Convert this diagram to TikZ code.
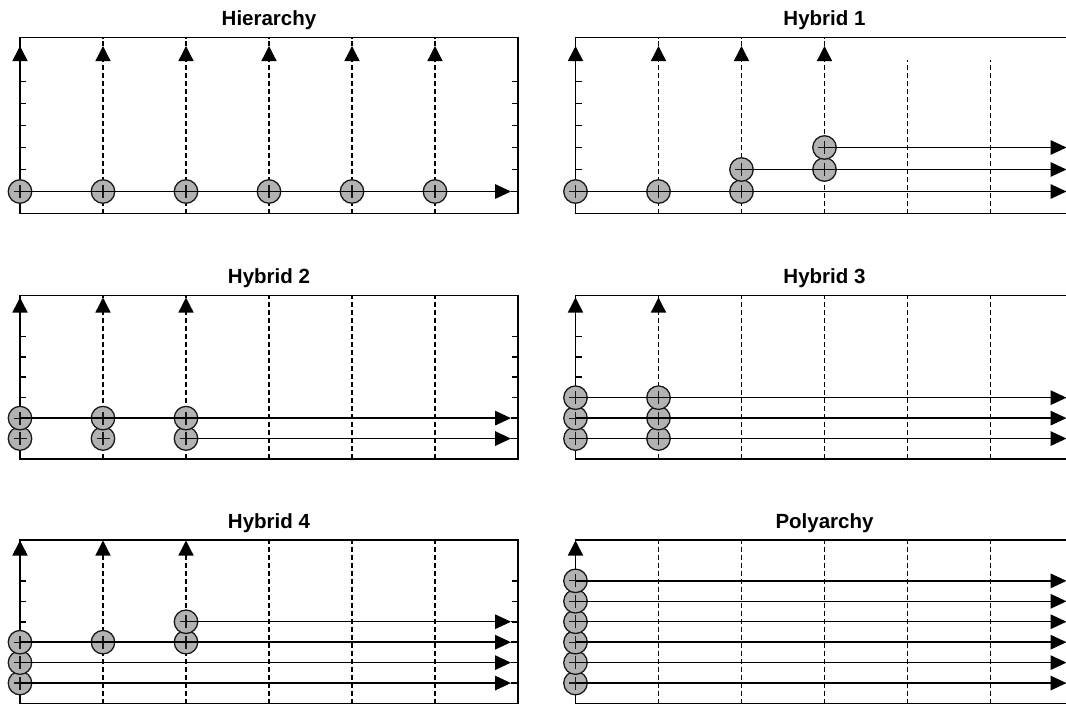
\documentclass[tikz,border=0pt]{standalone}
\usepackage{fontspec}
\setmainfont{Liberation Sans}
\usetikzlibrary{arrows.meta}
\tikzset{
  frame/.style={line width=1.6pt, draw=black},
  gridline/.style={line width=1.3pt, dash pattern=on 5pt off 3pt, draw=black},
  axisline/.style={line width=1.6pt, draw=black},
  tip/.style={-{Triangle[length=15pt,width=15pt]}},
  harrow/.style={line width=1.5pt, draw=black, -{Triangle[length=16pt,width=14.5pt]}},
  hline/.style={line width=1.5pt, draw=black},
  dot/.style={circle, draw=black!90, line width=1.3pt, fill=black!30,
    minimum size=23.5pt, inner sep=0pt,
    path picture={\draw[line width=1.2pt]
      ([xshift=-6.5pt]path picture bounding box.center) -- ([xshift=6.5pt]path picture bounding box.center)
      ([yshift=-6.5pt]path picture bounding box.center) -- ([yshift=6.5pt]path picture bounding box.center);}},
  ptitle/.style={font=\bfseries\fontsize{20.5}{24}\selectfont, anchor=base, inner sep=0pt}
}
% #1 prefix, #2 x0, #3 top, #4 bottom, #5 dy, #6 dx, #7 apex y, #8 start y of plain columns, #9 number of arrows
\newcommand{\mypanel}[9]{%
  \gdef\curp{#1}\gdef\curx{#2}\gdef\curb{#4}\gdef\curdy{#5}\gdef\curdx{#6}\gdef\curt{#3}%
  \draw[frame] (#2,#3) rectangle ({#2+6*#6},#4);
  \foreach \k in {1,...,6}{
    \draw[frame] (#2,{#4-\k*#5}) -- ++(6,0);
    \draw[frame] ({#2+6*#6},{#4-\k*#5}) -- ++(-6,0);
  }
  \foreach \i in {0,...,5}{
    \coordinate (#1-b\i) at ({#2+\i*#6},#4);
    \coordinate (#1-t\i) at ({#2+\i*#6},#3);
    \coordinate (#1-a\i) at ({#2+\i*#6},#7);
    \coordinate (#1-s\i) at ({#2+\i*#6},#8);
  }
  \foreach \i in {0,...,5}{
    \ifnum\i=0
      \draw[axisline,tip] (#1-b0) -- (#1-a0);
    \else
      \ifnum\i<#9
        \draw[gridline,tip] (#1-b\i) -- (#1-a\i);
        \draw[gridline] (#1-a\i) -- (#1-t\i);
      \else
        \draw[gridline] (#1-b\i) -- (#1-s\i);
      \fi
    \fi
  }
}
\newcommand{\mydots}[1]{%
  \foreach \i/\k in {#1}{
    \node[dot] (\curp-c\i-\k) at ({\curx+\i*\curdx},{\curb-\k*\curdy}) {};
  }
}
\newcommand{\myflows}[1]{%
  \foreach \i/\k in {#1}{
    \coordinate (\curp-e\k) at ({\curx+6*\curdx},{\curb-\k*\curdy});
    \coordinate (\curp-h\k) at ({\curx+6*\curdx-7},{\curb-\k*\curdy});
    \draw[harrow] (\curp-c\i-\k.center) -- (\curp-h\k);
    \draw[hline] (\curp-h\k) -- (\curp-e\k);
  }
}
\newcommand{\mytitle}[2]{%
  \node[ptitle] (\curp-title) at ({\curx+3*\curdx},#1) {#2};
}
\begin{document}
\begin{tikzpicture}[x=1pt,y=-1pt]
\useasboundingbox (0,0) rectangle (1066,704);
\clip (0,0) rectangle (1066,704);

% Hierarchy
\mypanel{A}{20}{37.5}{213.5}{22}{83}{46}{59.5}{6}
\mytitle{25.5}{Hierarchy}
\mydots{0/1,1/1,2/1,3/1,4/1,5/1}
\myflows{0/1}

% Hybrid 1
\mypanel{B}{575.5}{37.5}{213.5}{22}{83}{46}{59.5}{4}
\mytitle{25.5}{Hybrid 1}
\mydots{0/1,1/1,2/1,2/2,3/2,3/3}
\myflows{0/1,2/2,3/3}

% Hybrid 2
\mypanel{C}{20}{295.5}{459}{20.44}{83}{297.5}{295.5}{3}
\mytitle{283.5}{Hybrid 2}
\mydots{0/1,1/1,2/1,0/2,1/2,2/2}
\myflows{0/2,2/1}

% Hybrid 3
\mypanel{D}{575.5}{295.5}{459}{20.44}{83}{297.5}{295.5}{2}
\mytitle{283.5}{Hybrid 3}
\mydots{0/1,1/1,0/2,1/2,0/3,1/3}
\myflows{0/1,0/2,0/3}

% Hybrid 4
\mypanel{E}{20}{540}{703.5}{20.44}{83}{540.5}{540}{3}
\mytitle{528}{Hybrid 4}
\mydots{0/1,0/2,0/3,1/3,2/3,2/4}
\myflows{0/1,0/2,0/3,2/4}

% Polyarchy
\mypanel{F}{575.5}{540}{703.5}{20.44}{83}{540.5}{540}{1}
\mytitle{528}{Polyarchy}
\mydots{0/1,0/2,0/3,0/4,0/5,0/6}
\myflows{0/1,0/2,0/3,0/4,0/5,0/6}
\end{tikzpicture}
\end{document}
